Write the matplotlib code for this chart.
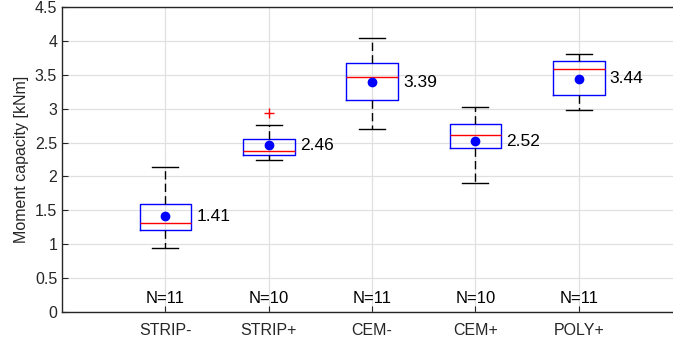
import matplotlib
matplotlib.use("Agg")
import matplotlib.pyplot as plt

plt.rcParams['font.family'] = ['Liberation Sans', 'DejaVu Sans']

categories = ["STRIP-", "STRIP+", "CEM-", "CEM+", "POLY+"]
whislo = [0.94, 2.245, 2.70, 1.91, 2.985]
q1 = [1.21, 2.31, 3.13, 2.42, 3.20]
med = [1.32, 2.38, 3.46, 2.615, 3.58]
q3 = [1.594, 2.55, 3.67, 2.78, 3.705]
whishi = [2.14, 2.76, 4.04, 3.02, 3.81]
outliers = [[], [2.93], [], [], []]
means = [1.41, 2.46, 3.39, 2.52, 3.44]
counts = [11, 10, 11, 10, 11]

fig = plt.figure(figsize=(6.73, 3.45), dpi=100)
ax = fig.add_axes([62/673, 33/345, 620/673, 305/345])

stats = []
for i in range(len(categories)):
    stats.append(dict(whislo=whislo[i], q1=q1[i], med=med[i], q3=q3[i],
                      whishi=whishi[i], fliers=outliers[i], label=categories[i]))

pos = list(range(1, len(categories) + 1))
ax.bxp(stats, positions=pos, widths=0.5, showfliers=True,
       boxprops=dict(color='#0000ff', linewidth=1.0),
       medianprops=dict(color='#ff0000', linewidth=1.0),
       whiskerprops=dict(color='black', linestyle=(0, (6, 3)), linewidth=1.0),
       capprops=dict(color='black', linewidth=1.0),
       capwidths=0.25,
       flierprops=dict(marker='+', markeredgecolor='#ff0000', markersize=7, linestyle='none'),
       zorder=3)

ax.plot(pos, means, 'o', color='#0000ff', markersize=6, zorder=4, linestyle='none')
for p, m in zip(pos, means):
    ax.text(p + 0.3, m, f"{m:.2f}", ha='left', va='center', fontsize=12.5, color='black')
for p, n in zip(pos, counts):
    ax.text(p, 0.2, f"N={n}", ha='center', va='center', fontsize=12, color='black')

ax.set_xlim(0, 6)
ax.set_ylim(0, 4.5)
ax.set_xticks(pos)
ax.set_xticklabels(categories, fontsize=11.5)
ax.set_yticks([0, 0.5, 1, 1.5, 2, 2.5, 3, 3.5, 4, 4.5])
ax.set_yticklabels(['0', '0.5', '1', '1.5', '2', '2.5', '3', '3.5', '4', '4.5'], fontsize=11.5)
ax.tick_params(direction='in', length=4, colors='#262626', labelcolor='#262626')
ax.tick_params(axis='x', pad=8)
ax.set_ylabel("Moment capacity [kNm]", fontsize=11.5, color='#262626', labelpad=4)
ax.grid(True, color='#e0e0e0', linewidth=0.9, zorder=0)
ax.set_axisbelow(True)
for s in ax.spines.values():
    s.set_color('#262626')
    s.set_linewidth(1.0)

fig.savefig("out.png", dpi=100)
